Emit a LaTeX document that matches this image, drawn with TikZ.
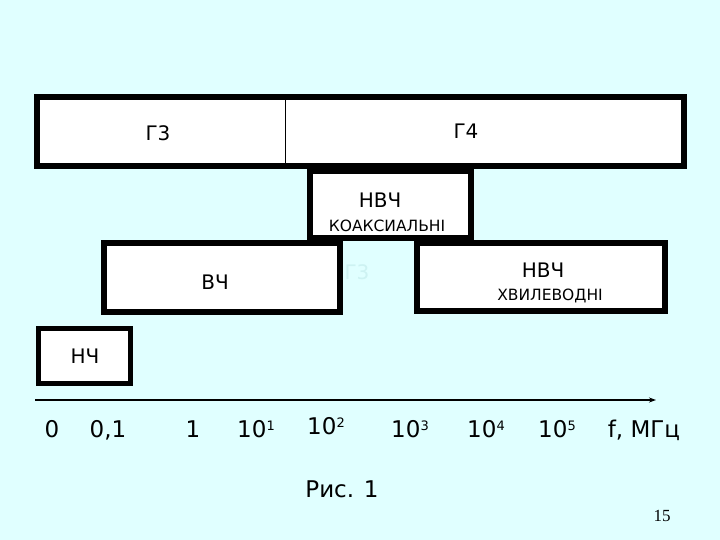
\documentclass[tikz,border=0pt]{standalone}
\usepackage{fontspec}
\setmainfont{DejaVu Sans}
\newfontfamily\numfont{Liberation Serif}
\usetikzlibrary{arrows.meta}
\definecolor{bgc}{HTML}{E0FFFF}
\definecolor{faint}{HTML}{CDF2F2}
\newcommand{\supx}[1]{\raisebox{7pt}{\fontsize{13}{14}\selectfont #1}}
\tikzset{
  band/.style={draw=black,line width=5.5pt,fill=white},
  lbl/.style={font=\fontsize{20}{22}\selectfont,inner sep=0pt},
  sublbl/.style={font=\fontsize{15.5}{17}\selectfont,inner sep=0pt},
  axl/.style={font=\fontsize{23}{25}\selectfont,anchor=base,inner sep=0pt},
}
\begin{document}
\begin{tikzpicture}[x=1pt,y=-1pt]
\fill[bgc] (0,0) rectangle (720,540);
\useasboundingbox (0,0) rectangle (720,540);
% top band
\draw[band] (37,97) rectangle (684,166);
\draw[line width=1pt] (285,97) -- (285,166);
\node[lbl] (g3) at (158,133) {Г3};
\node[lbl] (g4) at (466,131) {Г4};
% coax
\draw[band] (310,171) rectangle (471,238);
\node[lbl] (nvc1) at (380,200) {НВЧ};
\node[sublbl] (coax) at (387,226) {КОАКСИАЛЬНІ};
% faint label
\node[lbl,text=faint] (g3f) at (357,272) {Г3};
% HF
\draw[band] (104,243) rectangle (340,312);
\node[lbl] (vc) at (215,282) {ВЧ};
% waveguide
\draw[band] (417,243) rectangle (665,311);
\node[lbl] (nvc2) at (543,270) {НВЧ};
\node[sublbl] (wg) at (550,296) {ХВИЛЕВОДНІ};
% LF
\draw[band] (38.5,328.5) rectangle (130.5,383.5);
\node[lbl] (nc) at (85,356) {НЧ};
% axis
\coordinate (a0) at (35,400);
\coordinate (a1) at (656,400);
\draw[line width=2.5pt,-{Stealth[length=7pt,width=5pt]}] (a0) -- (a1);
\node[axl] (t0) at (52,437) {0};
\node[axl] (t1) at (108,437) {0,1};
\node[axl] (t2) at (193,437) {1};
\node[axl] (t3) at (256,437) {10\supx{1}};
\node[axl] (t4) at (326,434) {10\supx{2}};
\node[axl] (t5) at (410,437) {10\supx{3}};
\node[axl] (t6) at (486,437) {10\supx{4}};
\node[axl] (t7) at (557,437) {10\supx{5}};
\node[axl] (t8) at (644,437) {f, МГц};
\node[axl] (cap) at (342,497) {Рис. 1};
\node[font=\numfont\fontsize{17}{19}\selectfont,inner sep=0pt] (pg) at (662,516) {15};
\end{tikzpicture}
\end{document}
